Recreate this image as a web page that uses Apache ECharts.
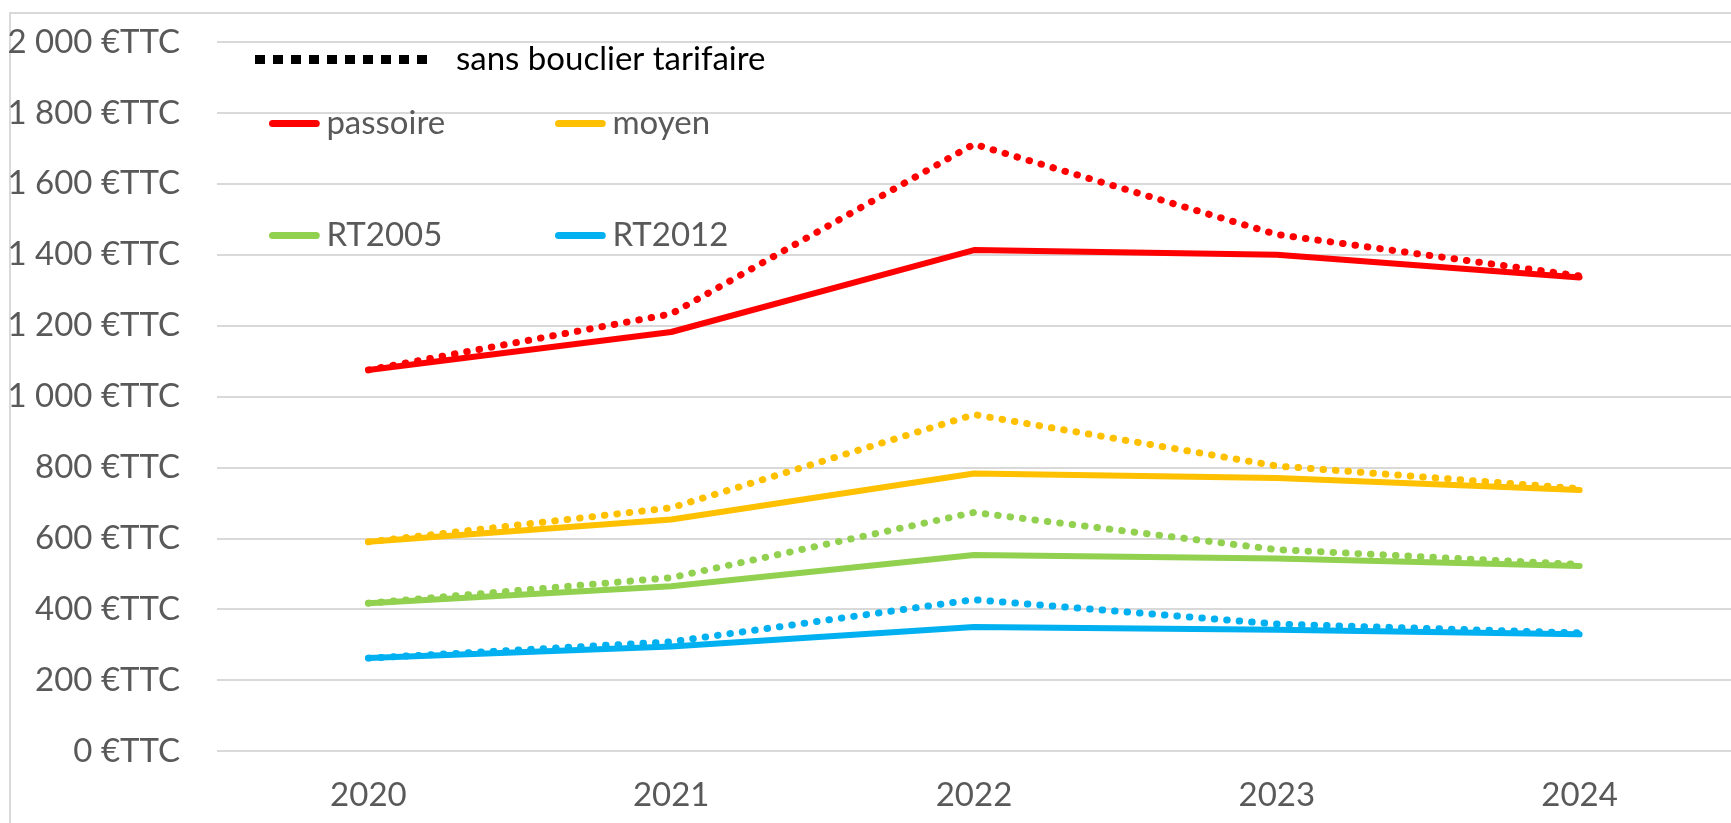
<!DOCTYPE html>
<html>
<head>
<meta charset="utf-8">
<script src="https://cdn.jsdelivr.net/npm/echarts@6/dist/echarts.min.js"></script>
<style>
  html, body { margin: 0; padding: 0; background: #fff; }
  #chart { width: 1731px; height: 823px; }
</style>
</head>
<body>
<div id="chart"></div>
<script>
// données (€TTC)
const years = ['2020', '2021', '2022', '2023', '2024']
const yTicks = [0, 200, 400, 600, 800, 1000, 1200, 1400, 1600, 1800, 2000]

// avec bouclier tarifaire (traits pleins)
const passoire = [1075, 1182, 1413, 1400, 1336]
const moyen = [590, 653, 783, 770, 736]
const rt2005 = [417, 465, 553, 543, 522]
const rt2012 = [262, 295, 350, 342, 329]

// sans bouclier tarifaire (pointillés)
const passoireSans = [1075, 1233, 1712, 1457, 1340]
const moyenSans = [590, 686, 949, 804, 740]
const rt2005Sans = [417, 489, 673, 568, 526]
const rt2012Sans = [262, 308, 427, 358, 333]

const COLORS = {
  passoire: '#FF0000',
  moyen: '#FFC000',
  rt2005: '#92D050',
  rt2012: '#00B0F0'
}

const FONT = 'Lato'
const TEXT_GREY = '#595959'

function fmt(v) {
  return String(v).replace(/\B(?=(\d{3})+(?!\d))/g, '\u00a0') + ' €TTC'
}

function solid(name, data, color) {
  return {
    name: name,
    type: 'line',
    data: data,
    symbol: 'none',
    z: 3,
    lineStyle: { color: color, width: 6, cap: 'round', join: 'round' },
    itemStyle: { color: color }
  }
}

function dotted(name, data, color) {
  return {
    name: name,
    type: 'line',
    data: data,
    symbol: 'none',
    z: 2,
    lineStyle: { color: color, width: 7, type: [0.5, 12], cap: 'round', join: 'round' },
    itemStyle: { color: color }
  }
}

// icône en tirets carrés pour la légende noire
let dashPath = 'path://'
for (let i = 0; i < 10; i++) {
  dashPath += 'M' + (i * 18) + ',0h10v9h-10z'
}
const lineIcon = 'path://M4,0h50a4,4 0 0 1 0,8h-50a4,4 0 0 1 0,-8z'

function legendItem(name, left, top, width) {
  return {
    data: [name],
    left: left,
    top: top,
    icon: lineIcon,
    itemWidth: width,
    itemHeight: 7,
    selectedMode: false,
    textStyle: { fontFamily: FONT, fontSize: 33, color: TEXT_GREY }
  }
}

const chart = echarts.init(document.getElementById('chart'))
chart.setOption({
  animation: false,
  backgroundColor: '#fff',
  graphic: [{
    type: 'rect',
    shape: { x: 10, y: 13, width: 1760, height: 840 },
    style: { fill: 'none', stroke: '#d9d9d9', lineWidth: 2 },
    silent: true
  }],
  legend: [
    {
      data: ['sans bouclier tarifaire'],
      left: 250,
      top: 38,
      icon: dashPath,
      itemWidth: 172,
      itemHeight: 9,
      selectedMode: false,
      textStyle: { fontFamily: FONT, fontSize: 33, color: '#000', padding: [0, 0, 0, 24] }
    },
    legendItem('passoire', 264, 102, 54),
    legendItem('moyen', 550, 102, 54),
    legendItem('RT2005', 264, 214, 54),
    legendItem('RT2012', 550, 214, 54)
  ],
  grid: {
    left: 217,
    top: 42,
    width: 1526,
    bottom: 72
  },
  xAxis: {
    type: 'category',
    data: years,
    boundaryGap: true,
    axisLine: { show: false },
    axisTick: { show: false },
    axisLabel: { margin: 28, fontFamily: FONT, fontSize: 33, color: TEXT_GREY }
  },
  yAxis: {
    type: 'value',
    min: yTicks[0],
    max: yTicks[yTicks.length - 1],
    interval: 200,
    axisLine: { show: false },
    axisTick: { show: false },
    splitLine: { lineStyle: { color: '#d9d9d9', width: 2 } },
    axisLabel: { margin: 37, fontFamily: FONT, fontSize: 33, color: TEXT_GREY, formatter: fmt }
  },
  series: [
    {
      name: 'sans bouclier tarifaire',
      type: 'line',
      data: [],
      symbol: 'none',
      lineStyle: { color: '#000', width: 8 },
      itemStyle: { color: '#000' }
    },
    dotted('passoire sans bouclier', passoireSans, COLORS.passoire),
    dotted('moyen sans bouclier', moyenSans, COLORS.moyen),
    dotted('RT2005 sans bouclier', rt2005Sans, COLORS.rt2005),
    dotted('RT2012 sans bouclier', rt2012Sans, COLORS.rt2012),
    solid('passoire', passoire, COLORS.passoire),
    solid('moyen', moyen, COLORS.moyen),
    solid('RT2005', rt2005, COLORS.rt2005),
    solid('RT2012', rt2012, COLORS.rt2012)
  ]
})
</script>
</body>
</html>
